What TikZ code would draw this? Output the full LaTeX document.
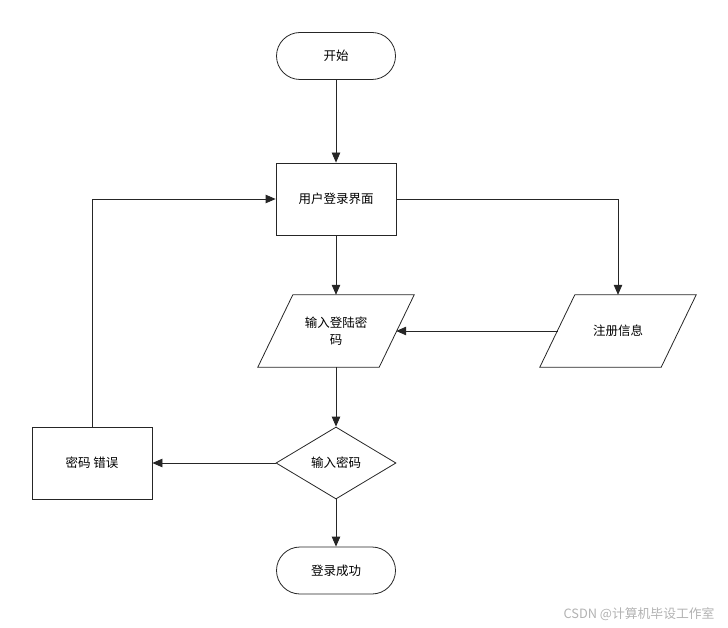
\documentclass[tikz,border=0pt]{standalone}
\usepackage{fontspec}
\setmainfont{Noto Sans CJK SC}
\usetikzlibrary{arrows.meta,shapes.geometric,positioning}
\tikzset{
  base/.style={draw=black!85, line width=0.8pt, inner sep=0pt, align=center,
    font=\fontsize{12.5}{17}\selectfont, text=black},
  term/.style={base, rounded corners=23.5pt, minimum width=119pt, minimum height=47pt},
  proc/.style={base, rectangle, minimum width=120pt, minimum height=72pt},
  iobox/.style={inner sep=0pt, align=center, font=\fontsize{12.5}{17}\selectfont,
    minimum width=120pt, minimum height=72pt},
  decide/.style={base, diamond, minimum width=120pt, minimum height=72pt},
  flow/.style={draw=black!85, line width=0.8pt, -{Triangle[length=10pt,width=8.5pt]}},
  para/.style={draw=black!85, line width=0.8pt}
}
\begin{document}
\begin{tikzpicture}[x=1pt,y=-1pt]
\useasboundingbox (0,0) rectangle (728,628);
\node[term] (start) at (336,56) {开始};
\node[proc] (login) at (336,199) {用户登录界面};
\node[iobox] (input) at (336,331) {输入登陆密\\码};
\node[iobox] (reg) at (618,331) {注册信息};
\node[decide] (check) at (336,463) {输入密码};
\node[proc] (err) at (92,463) {密码 错误};
\node[term] (ok) at (336,570.5) {登录成功};
\node[font=\fontsize{12.8}{14}\selectfont, text=black!30] (wm) at (639,614) {CSDN @计算机毕设工作室};
% parallelograms
\draw[para] ([xshift=-18pt]input.south west) -- ([xshift=17pt]input.north west)
  -- ([xshift=18pt]input.north east) -- ([xshift=-17pt]input.south east) -- cycle;
\draw[para] ([xshift=-18pt]reg.south west) -- ([xshift=17pt]reg.north west)
  -- ([xshift=18pt]reg.north east) -- ([xshift=-17pt]reg.south east) -- cycle;
% connectors
\draw[flow] (start) -- (login);
\draw[flow] (login) -- (input);
\draw[flow] (login.east) -| (reg.north);
\draw[flow] (reg.west) -- (input.east);
\draw[flow] (input) -- (check);
\draw[flow] (check.west) -- (err.east);
\draw[flow] (err.north) |- (login.west);
\draw[flow] (check.south) -- (ok.north);
\end{tikzpicture}
\end{document}
